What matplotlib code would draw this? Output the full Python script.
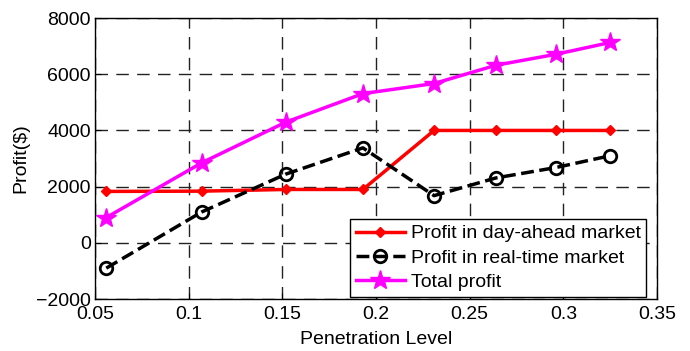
import matplotlib
matplotlib.use("Agg")
import matplotlib.pyplot as plt

# penetration levels and profits
penetration = [0.056, 0.107, 0.152, 0.193, 0.231, 0.264, 0.296, 0.325]
day_ahead = [1830, 1840, 1900, 1900, 4000, 4000, 4000, 4000]
real_time = [-900, 1100, 2450, 3380, 1680, 2310, 2680, 3100]
total = [900, 2850, 4300, 5310, 5670, 6320, 6710, 7130]

plt.rcParams['font.family'] = ['Liberation Sans', 'DejaVu Sans']
plt.rcParams['font.size'] = 14

fig = plt.figure(figsize=(6.9, 3.51), dpi=100)
ax = fig.add_axes([0.1377, 0.148, 0.8145, 0.8006])

ax.plot(penetration, day_ahead, color='red', lw=2.5, marker='D', ms=5.5,
        label='Profit in day-ahead market')
ax.plot(penetration, real_time, color='black', lw=2.5, ls='--', marker='o',
        ms=9, mfc='none', mew=2, label='Profit in real-time market')
ax.plot(penetration, total, color='magenta', lw=2.5, marker='*', ms=15,
        label='Total profit')

ax.set_xlim(0.05, 0.35)
ax.set_ylim(-2000, 8000)
ax.set_xticks([0.05, 0.1, 0.15, 0.2, 0.25, 0.3, 0.35])
ax.set_xticklabels(['0.05', '0.1', '0.15', '0.2', '0.25', '0.3', '0.35'])
ax.set_yticks([-2000, 0, 2000, 4000, 6000, 8000])
ax.set_yticklabels(['\u22122000', '0', '2000', '4000', '6000', '8000'])
ax.grid(True, color='#222222', ls=(0, (9, 6)), lw=1.0)
ax.tick_params(direction='in', length=4)
ax.tick_params(axis='x', pad=5)
ax.tick_params(axis='y', pad=3)
for s in ax.spines.values():
    s.set_linewidth(1.0)

ax.set_xlabel('Penetration Level', labelpad=6)
ax.set_ylabel('Profit($)', labelpad=5)

leg = ax.legend(loc='lower right', bbox_to_anchor=(0.981, 0.007), borderaxespad=0,
                fancybox=False, framealpha=1, edgecolor='black',
                handlelength=2.5, handletextpad=0.3, labelspacing=0.35,
                borderpad=0.3)
leg.get_frame().set_linewidth(1.0)

fig.savefig('out.png', dpi=100)
